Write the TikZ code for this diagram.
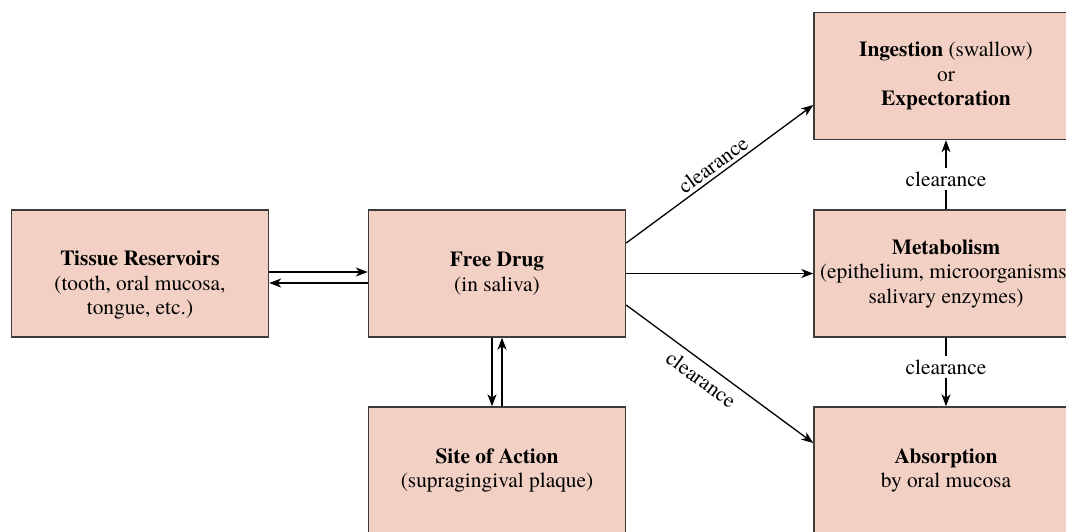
\documentclass[tikz,border=0pt]{standalone}
\usepackage{fontspec}
\setmainfont{texgyretermes}[Extension=.otf, UprightFont=*-regular, BoldFont=*-bold, ItalicFont=*-italic, BoldItalicFont=*-bolditalic]
\usetikzlibrary{arrows.meta}
\definecolor{boxfill}{RGB}{242,208,196}
\definecolor{boxline}{RGB}{60,60,60}
\begin{document}
\begin{tikzpicture}[x=1pt,y=-1pt,
  txt/.style={font=\fontsize{21.4}{24.5}\selectfont, align=center, text=black},
  box/.style={txt, draw=boxline, fill=boxfill, line width=1.4pt, inner sep=0pt},
  lbox/.style={box, minimum width=257pt, minimum height=127pt},
  rbox/.style={box, minimum width=264pt, minimum height=127pt},
  arr/.style={-{Stealth[length=12pt,width=9pt,inset=3.5pt]}, line width=1.3pt},
  lbl/.style={txt}]
\clip (0,0) rectangle (1066,531);
\node[lbox, label={[txt,yshift=-11.5pt]center:{\textbf{Tissue Reservoirs}\\(tooth, oral mucosa,\\tongue, etc.)}}] (tissue) at (140,273.5) {};
\node[lbox] (free) at (497,273.5) {\textbf{Free Drug}\\(in saliva)};
\node[lbox] (site) at (497,470.5) {\textbf{Site of Action}\\(supragingival plaque)};
\node[rbox] (ingest) at (946,76) {\textbf{Ingestion} (swallow)\\or\\\textbf{Expectoration}};
\node[rbox] (metab) at (946,273.5) {\textbf{Metabolism}\\(epithelium, microorganisms,\\salivary enzymes)};
\node[rbox] (absorb) at (946,470.5) {\textbf{Absorption}\\by oral mucosa};
% tissue <-> free
\draw[arr] ([yshift=1.5pt]tissue.east) -- ([yshift=1.5pt]free.west);
\draw[arr] ([yshift=-9.5pt]free.west) -- ([yshift=-9.5pt]tissue.east);
% free <-> site
\draw[arr] ([xshift=-5pt]free.south) -- ([xshift=-5pt]site.north);
\draw[arr] ([xshift=5pt]site.north) -- ([xshift=5pt]free.south);
% free -> right column
\draw[arr] ([yshift=30.5pt]free.east) -- node[lbl,sloped,above]{clearance} ([yshift=-29pt]ingest.west);
\draw[arr] (free.east) -- (metab.west);
\draw[arr] ([yshift=-31.5pt]free.east) -- node[lbl,sloped,below=4pt,pos=0.45]{clearance} ([yshift=27.5pt]absorb.west);
% right column verticals
\draw[arr] (metab.north) -- node[lbl,fill=white,pos=0.44]{clearance} (ingest.south);
\draw[arr] (metab.south) -- node[lbl,fill=white,pos=0.43]{clearance} (absorb.north);
\end{tikzpicture}
\end{document}
